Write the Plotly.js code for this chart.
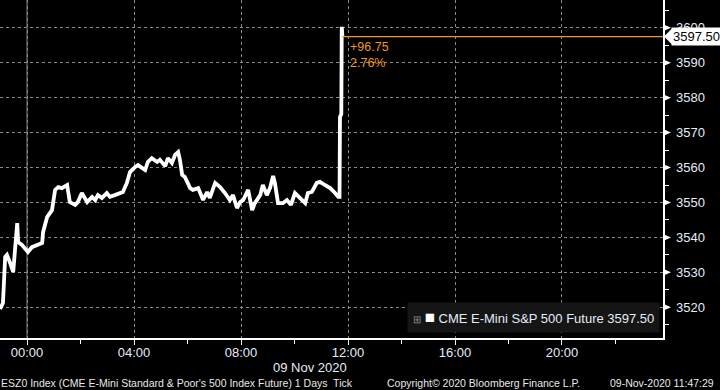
<!DOCTYPE html>
<html>
<head>
<meta charset="utf-8">
<script src="https://cdn.plot.ly/plotly-3.0.1.min.js"></script>
<style>
html,body{margin:0;padding:0;background:#000;}
#chart{width:720px;height:390px;}
</style>
</head>
<body>
<div id="chart"></div>
<script>
// ---- data ----
const times = [
 '2020-11-08 22:59:30','2020-11-08 23:06','2020-11-08 23:11','2020-11-08 23:15','2020-11-08 23:22',
 '2020-11-08 23:29','2020-11-08 23:38','2020-11-08 23:40','2020-11-08 23:49','2020-11-09 00:02',
 '2020-11-09 00:11','2020-11-09 00:22','2020-11-09 00:34','2020-11-09 00:36','2020-11-09 00:45',
 '2020-11-09 00:56','2020-11-09 01:03','2020-11-09 01:10','2020-11-09 01:18','2020-11-09 01:30',
 '2020-11-09 01:36','2020-11-09 01:48','2020-11-09 01:54','2020-11-09 02:03','2020-11-09 02:15',
 '2020-11-09 02:26','2020-11-09 02:33','2020-11-09 02:39','2020-11-09 02:48','2020-11-09 02:59',
 '2020-11-09 03:06','2020-11-09 03:17','2020-11-09 03:29','2020-11-09 03:35','2020-11-09 03:44',
 '2020-11-09 03:51','2020-11-09 04:02','2020-11-09 04:09','2020-11-09 04:18','2020-11-09 04:25',
 '2020-11-09 04:31','2020-11-09 04:40','2020-11-09 04:52','2020-11-09 04:58','2020-11-09 05:10',
 '2020-11-09 05:16','2020-11-09 05:25','2020-11-09 05:32','2020-11-09 05:39','2020-11-09 05:43',
 '2020-11-09 05:48','2020-11-09 05:54','2020-11-09 06:06','2020-11-09 06:12','2020-11-09 06:24',
 '2020-11-09 06:35','2020-11-09 06:44','2020-11-09 06:50','2020-11-09 07:02','2020-11-09 07:13',
 '2020-11-09 07:24','2020-11-09 07:35','2020-11-09 07:42','2020-11-09 07:51','2020-11-09 07:58',
 '2020-11-09 08:05','2020-11-09 08:16','2020-11-09 08:25','2020-11-09 08:31','2020-11-09 08:43',
 '2020-11-09 08:49','2020-11-09 08:58','2020-11-09 09:05','2020-11-09 09:12','2020-11-09 09:16',
 '2020-11-09 09:23','2020-11-09 09:34','2020-11-09 09:43','2020-11-09 09:52','2020-11-09 10:01',
 '2020-11-09 10:12','2020-11-09 10:24','2020-11-09 10:30','2020-11-09 10:39','2020-11-09 10:50',
 '2020-11-09 10:57','2020-11-09 11:08','2020-11-09 11:20','2020-11-09 11:31','2020-11-09 11:38',
 '2020-11-09 11:41','2020-11-09 11:42','2020-11-09 11:45','2020-11-09 11:46','2020-11-09 11:47',
 '2020-11-09 11:47:29'
];
const prices = [
 3519.5,3521.2,3534.4,3535.0,3532.7,
 3530.1,3544.1,3538.7,3537.8,3535.8,
 3537.2,3537.8,3538.4,3541.5,3545.8,
 3547.8,3553.6,3554.4,3554.1,3555.0,
 3550.1,3549.3,3550.1,3552.7,3550.1,
 3551.6,3550.7,3552.1,3551.3,3552.7,
 3551.6,3552.1,3552.7,3553.0,3555.6,
 3558.7,3560.1,3560.7,3559.9,3559.3,
 3561.6,3562.7,3561.6,3562.2,3560.4,
 3562.7,3561.3,3563.6,3564.4,3562.2,
 3557.9,3557.3,3554.1,3553.6,3554.1,
 3550.7,3553.0,3551.3,3555.6,3554.4,
 3552.7,3550.7,3552.1,3548.4,3550.1,
 3550.7,3553.6,3547.8,3549.8,3552.1,
 3555.0,3552.1,3554.1,3557.6,3555.6,
 3549.8,3549.8,3550.7,3549.3,3552.7,
 3551.3,3549.8,3552.7,3553.0,3555.6,
 3555.9,3555.0,3554.1,3552.7,3551.6,
 3551.6,3574.5,3575.3,3600.3,3600.0,
 3597.5
];
const seriesName = 'CME E-Mini S&P 500 Future';
const changeText = '+96.75';
const changePctText = '2.76%';
const xRange = ['2020-11-08 22:59:24','2020-11-09 23:46:34'];
const yRange = [3511.2, 3607.96];
const dayBoundary = '2020-11-09 00:00';
const yMajorTicks = [3520,3530,3540,3550,3560,3570,3580,3590,3600];
const footerLeft = "ESZ0 Index (CME E-Mini Standard &amp; Poor's 500 Index Future) 1 Days  Tick";
const footerMid = 'Copyright© 2020 Bloomberg Finance L.P.';
const footerRight = '09-Nov-2020 11:47:29';
const dateLabel = '09 Nov 2020';

// ---- chart ----
const lastT = times[times.length-1];
const lastV = prices[prices.length-1];
const lastStr = lastV.toFixed(2);
const orange = '#f0961e';
const lbl = '#e4ecf7';
const gridC = '#8a8a8a';

const trace = {
  x: times, y: prices, type: 'scatter', mode: 'lines',
  line: {color: '#ffffff', width: 3.8, shape: 'linear'},
  hoverinfo: 'skip', showlegend: false
};

const shapes = [
  // solid day separator
  {type:'line', xref:'x', yref:'paper', x0:dayBoundary, x1:dayBoundary, y0:0, y1:1,
   line:{color:'#8a8a8a', width:1}, layer:'below'},
  // last price line
  {type:'line', xref:'x', yref:'y', x0:lastT, x1:xRange[1], y0:lastV, y1:lastV,
   line:{color:orange, width:1.2}},
  // pointer of last price box
  {type:'path', xref:'paper', yref:'y', xsizemode:'pixel', ysizemode:'pixel',
   xanchor:1, yanchor:lastV, path:'M1,0 L9,-8 L9,8 Z', fillcolor:'#ffffff', line:{width:0}}
];
yMajorTicks.forEach(v => {
  shapes.push({type:'path', xref:'paper', yref:'y', xsizemode:'pixel', ysizemode:'pixel',
    xanchor:1, yanchor:v, path:'M0,-3.5 L8,0 L0,3.5 Z', fillcolor:'#ffffff', line:{width:0}});
});

const annotations = [
  {xref:'x', yref:'y', x:lastT, y:lastV, xanchor:'left', yanchor:'top', xshift:6, yshift:-1,
   text: changeText + '<br>' + changePctText, showarrow:false, align:'left',
   font:{family:'Liberation Sans, Arial', size:12.5, color:orange}},
  {xref:'paper', yref:'y', x:1, y:lastV, xanchor:'left', yanchor:'middle', xshift:8,
   text: lastStr, showarrow:false, bgcolor:'#ffffff', borderpad:1,
   font:{family:'Liberation Sans, Arial', size:13, color:'#000000'}},
  // legend box
  {xref:'paper', yref:'paper', x:660/663, y:5/338, xanchor:'right', yanchor:'bottom',
   text:'<span style="color:#8c8c8c;font-size:10px">⊞</span> <span style="color:#ffffff;font-size:17px">■</span> ' + seriesName + ' ' + lastStr,
   showarrow:false, bgcolor:'#151515', borderpad:5,
   font:{family:'Liberation Sans, Arial', size:13, color:lbl}},
  {xref:'paper', yref:'paper', x:310/663, y:0, yanchor:'top', yshift:-20, xanchor:'center',
   text: dateLabel, showarrow:false, font:{family:'Liberation Sans, Arial', size:13, color:lbl}},
  {xref:'paper', yref:'paper', x:-0.002, y:0, xanchor:'left', yanchor:'top', yshift:-37,
   text: footerLeft, showarrow:false, font:{family:'Liberation Sans Narrow, Liberation Sans, Arial', size:10.5, color:'#e8e8e8'}},
  {xref:'paper', yref:'paper', x:385/663, y:0, xanchor:'left', yanchor:'top', yshift:-37,
   text: footerMid, showarrow:false, font:{family:'Liberation Sans Narrow, Liberation Sans, Arial', size:10.5, color:'#e8e8e8'}},
  {xref:'paper', yref:'paper', x:716/663, y:0, xanchor:'right', yanchor:'top', yshift:-37,
   text: footerRight, showarrow:false, font:{family:'Liberation Sans Narrow, Liberation Sans, Arial', size:10.5, color:'#e8e8e8'}}
];

const layout = {
  width:720, height:390,
  margin:{l:0, r:57, t:0, b:52, pad:0},
  paper_bgcolor:'#000000', plot_bgcolor:'#000000',
  showlegend:false,
  xaxis:{
    type:'date', range:xRange, tick0:dayBoundary, dtick:4*3600*1000, tickformat:'%H:%M',
    showgrid:true, gridcolor:gridC, griddash:'dot', gridwidth:1,
    showline:true, linecolor:'#ffffff', linewidth:1.5, mirror:false,
    ticks:'outside', ticklen:5, tickcolor:'#ffffff', tickwidth:1,
    minor:{dtick:2*3600*1000, ticks:'outside', ticklen:4, tickcolor:'#ffffff', showgrid:false},
    ticklabelstandoff:-3,
    tickfont:{family:'Liberation Sans, Arial', size:13, color:lbl},
    zeroline:false, fixedrange:true
  },
  yaxis:{
    side:'right', range:yRange, tick0:3520, dtick:10,
    showgrid:true, gridcolor:gridC, griddash:'dot', gridwidth:1,
    showline:true, linecolor:'#ffffff', linewidth:1.5,
    ticks:'outside', ticklen:8, tickcolor:'rgba(0,0,0,0)', tickwidth:1,
    minor:{dtick:5, ticks:'outside', ticklen:4, tickcolor:'#ffffff', showgrid:false},
    ticklabelstandoff:1,
    tickfont:{family:'Liberation Sans, Arial', size:13, color:lbl},
    zeroline:false, fixedrange:true
  },
  shapes: shapes,
  annotations: annotations
};

Plotly.newPlot('chart', [trace], layout, {displayModeBar:false, staticPlot:true});
</script>
</body>
</html>
